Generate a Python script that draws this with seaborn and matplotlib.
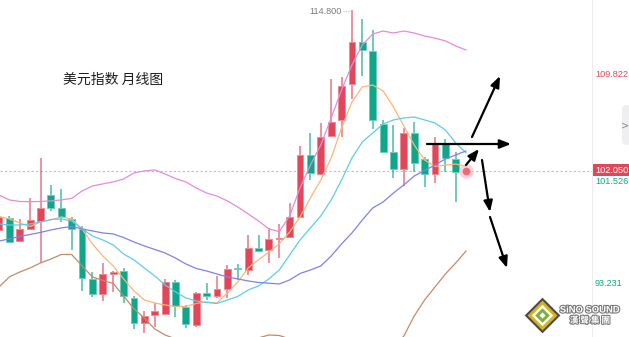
import numpy as np
import pandas as pd
import matplotlib
matplotlib.use("Agg")
import matplotlib.pyplot as plt
import seaborn as sns
from matplotlib import patheffects as pe
from matplotlib.patches import FancyBboxPatch
from matplotlib.transforms import blended_transform_factory

# ---------------- data ----------------
title = "美元指数 月线图"

opens = [97.37, 98.34, 96.52, 97.45, 98.08, 100.12, 99.11, 98.24, 97.42, 93.48,
         92.26, 93.87, 94.09, 91.99, 90.01, 90.64, 90.72, 93.22, 91.28, 89.83,
         92.37, 92.15, 92.71, 94.35, 94.22, 95.91, 95.78, 96.65, 96.77, 98.42,
         103.29, 101.81, 104.85, 106.10, 108.98, 112.31, 111.60, 105.80, 103.56, 102.18,
         105.04, 103.00, 101.81, 104.25, 103.00, 101.95]
highs = [98.56, 98.44, 98.24, 99.93, 103.08, 100.94, 100.60, 98.40, 97.68, 94.01,
         94.77, 94.14, 94.35, 92.13, 90.94, 91.60, 93.45, 93.40, 91.44, 92.47,
         93.18, 93.72, 94.56, 94.64, 96.97, 96.97, 97.50, 97.84, 99.47, 104.06,
         105.04, 105.88, 109.35, 109.53, 114.80, 114.09, 113.24, 106.10, 105.70, 105.44,
         105.91, 103.18, 104.77, 104.56, 103.58, 102.12]
lows = [97.21, 96.37, 96.44, 97.41, 94.72, 98.90, 98.02, 95.78, 92.55, 92.07,
        91.75, 92.47, 91.55, 89.51, 89.22, 89.69, 90.64, 90.49, 89.61, 89.69,
        91.81, 91.99, 91.99, 93.40, 93.79, 95.64, 94.72, 95.18, 96.69, 98.36,
        101.33, 101.73, 104.77, 104.72, 107.76, 109.59, 105.38, 103.50, 101.52, 100.88,
        101.95, 100.80, 101.07, 101.95, 99.61, 101.90]
closes = [98.40, 96.44, 97.42, 98.16, 99.11, 99.14, 98.37, 97.42, 93.53, 92.26,
          93.85, 94.06, 92.13, 90.01, 90.54, 90.94, 93.22, 91.36, 89.88, 92.34,
          92.15, 92.68, 94.27, 94.25, 95.94, 95.72, 96.65, 96.73, 98.37, 103.29,
          101.87, 104.75, 105.91, 108.77, 112.31, 111.65, 106.10, 103.58, 102.18, 105.04,
          102.66, 101.79, 104.25, 103.06, 101.95, 102.05]

ma_orange = [98.44, 98.24, 97.92, 97.64, 98.00, 98.16, 98.40, 98.24, 97.45, 96.26,
             95.30, 94.51, 93.48, 92.53, 91.81, 91.57, 91.41, 91.30, 91.30, 91.53,
             91.65, 91.57, 92.37, 93.24, 94.35, 94.99, 95.62, 96.26, 97.21, 98.40,
             99.91, 101.33, 103.08, 105.46, 107.52, 108.72, 108.87, 108.40, 107.13, 105.62,
             104.11, 102.92, 102.41, 102.52, 102.60, 102.41]
ma_cyan = [97.84, 97.76, 97.76, 97.84, 98.00, 98.20, 98.24, 98.08, 97.45, 96.89,
           96.57, 96.18, 95.46, 94.99, 94.35, 93.72, 93.00, 92.45, 91.97, 91.73,
           91.61, 91.53, 91.81, 92.09, 92.60, 92.92, 93.48, 94.19, 95.38, 96.57,
           97.53, 98.48, 99.75, 101.33, 103.08, 104.35, 105.06, 105.78, 106.10, 106.26,
           106.33, 106.10, 105.86, 105.30, 104.27, 103.48]
ma_blue = [96.49, 96.65, 96.85, 97.01, 97.17, 97.37, 97.53, 97.64, 97.45, 97.29,
           97.13, 97.05, 96.77, 96.41, 96.10, 95.82, 95.54, 95.14, 94.67, 94.31,
           94.11, 93.87, 93.64, 93.48, 93.32, 93.20, 93.14, 93.08, 93.40, 93.91,
           94.19, 94.51, 95.30, 96.26, 97.13, 98.16, 99.11, 99.59, 100.30, 100.94,
           101.65, 102.09, 102.52, 103.00, 103.32, 103.64]
band_upper = [100.14, 99.75, 99.63, 99.61, 99.63, 99.67, 99.75, 99.87, 100.46, 100.86,
              101.02, 101.18, 101.41, 101.89, 102.05, 102.13, 101.81, 101.45, 101.18, 100.70,
              100.30, 100.06, 99.67, 99.19, 98.64, 98.08, 97.45, 97.23, 98.48, 100.70,
              102.52, 104.11, 106.26, 108.48, 110.46, 112.05, 112.92, 113.16, 113.00, 113.16,
              113.00, 112.76, 112.60, 112.37, 111.97, 111.65]
band_lower = [92.84, 93.64, 94.03, 94.35, 94.75, 95.06, 95.42, 95.42, 94.51, 93.64,
              93.36, 93.12, 92.13, 91.10, 90.38, 89.51, 89.03, 88.72, 88.40, 88.16,
              88.24, 88.40, 88.56, 88.64, 88.72, 88.80, 89.03, 88.99, 88.72, 88.24,
              87.05, 85.46, 83.87, 82.29, 80.70, 81.49, 83.87, 86.41, 88.08, 88.95,
              90.54, 91.81, 92.84, 93.87, 94.75, 95.70]

axis_marks = ["109.822", "101.526", "93.231"]
axis_values = [109.822, 101.526, 93.231]
high_label = "114.800"
brand_en = "SiNO SOUND"
brand_cn = "漢 聲 集 團"

# ---------------- style ----------------
sns.set_theme(style="white")
plt.rcParams['font.family'] = ['Noto Sans CJK SC', 'DejaVu Sans']

RED = "#E0485A"
GREEN = "#0FA68A"
RED_EDGE = "#EE8A96"
GREEN_EDGE = "#6CCDBA"

fig = plt.figure(figsize=(6.29, 3.37), dpi=100, facecolor="white")
ax = fig.add_axes([0, 0, 1, 1])
ax.set_facecolor("white")

idx = np.arange(len(opens))
o = np.array(opens); c = np.array(closes); h = np.array(highs); l = np.array(lows)
up = c >= o
body_col = np.where(up, RED, GREEN)
edge_col = np.where(up, RED_EDGE, GREEN_EDGE)

# wicks
ax.vlines(idx, l, h, colors=[RED if u else GREEN for u in up], linewidth=1.1,
          alpha=0.75, zorder=2)
# bodies
bottoms = np.minimum(o, c)
heights = np.maximum(np.abs(c - o), 0.09)
ax.bar(idx, heights, bottom=bottoms, width=0.66, color=body_col,
       edgecolor=edge_col, linewidth=0.7, zorder=2.5)

# moving average / band lines via seaborn
series = {"upper": band_upper, "ma_orange": ma_orange, "ma_cyan": ma_cyan,
          "ma_blue": ma_blue, "lower": band_lower}
df = pd.concat([pd.DataFrame({"idx": idx, "value": v, "series": k})
                for k, v in series.items()], ignore_index=True)
palette = {"upper": "#E48BDC", "ma_orange": "#FFB475", "ma_cyan": "#5ACFE6",
           "ma_blue": "#8080F2", "lower": "#C58A68"}
sns.lineplot(data=df, x="idx", y="value", hue="series", palette=palette,
             estimator=None, legend=False, linewidth=0.9, ax=ax, zorder=3)

ax.set_xlim(0.096, 60.69)
ax.set_ylim(88.87, 115.62)
ax.axis("off")

last = closes[-1]
xmax_frac = 592 / 629
trans = blended_transform_factory(ax.transAxes, ax.transData)
# current price dashed line
ax.plot([0, xmax_frac], [last, last], transform=trans,
        color="#F6A6AE", linewidth=0.8, linestyle=(0, (2, 2)), zorder=1)
# divider of the price scale
ax.plot([xmax_frac, xmax_frac], [0, 1], transform=ax.transAxes, color="#EDEDED",
        linewidth=0.8, zorder=1)

# current price glow marker
ax.scatter([idx[-1]], [last], s=110, color="#F9C2C8", alpha=0.7, zorder=4, linewidths=0)
ax.scatter([idx[-1]], [last], s=30, color="#EE6A78", zorder=5, linewidths=0)

# price scale labels
lab_x = 595 / 629
label_font = dict(family="Liberation Sans", fontsize=6.6)
ax.annotate(axis_marks[0], xy=(lab_x, axis_values[0]), xycoords=trans, xytext=(0, -0.8),
            textcoords="offset points", va="center", ha="left", color=RED, **label_font)
ax.annotate(axis_marks[1], xy=(lab_x, axis_values[1]), xycoords=trans, xytext=(0, -2.6),
            textcoords="offset points", va="center", ha="left", color=GREEN, **label_font)
ax.annotate(axis_marks[2], xy=(lab_x, axis_values[2]), xycoords=trans, xytext=(0, -1.3),
            textcoords="offset points", va="center", ha="left", color=GREEN, **label_font)
ax.annotate(f"{last:.3f}", xy=(lab_x, last), xycoords=trans, xytext=(0, 0.6),
            textcoords="offset points", va="center", ha="left", color="white",
            bbox=dict(boxstyle="square,pad=0.2", facecolor=RED, edgecolor="none"),
            zorder=6, **label_font)

# high label
hi_i = int(np.argmax(h))
ax.annotate(high_label, xy=(hi_i, h[hi_i]), xycoords="data", xytext=(-7.2, -1.2),
            textcoords="offset points", va="center", ha="right", color="#7B7B8A",
            **label_font)
ax.plot([hi_i - 0.85, hi_i - 0.12], [h[hi_i] - 0.05, h[hi_i] - 0.05], color="#B8B8C4",
        linewidth=0.8, linestyle=(0, (1, 1.2)), zorder=4)

# title
ax.text(63 / 629, 1 - 80 / 337, title, transform=ax.transAxes, fontsize=10,
        color="#1E1E1E", ha="left", va="center", family=["Noto Sans CJK SC", "DejaVu Sans"])

# drawn arrows (axes-fraction positions)
arrows = [((472, 137), (500, 76)), ((427, 144), (511, 144)), ((466, 165), (479, 149)),
          ((482, 160), (490, 212)), ((490, 217), (507, 268))]
for (x0, y0), (x1, y1) in arrows:
    ax.annotate("", xy=(x1 / 629, 1 - y1 / 337), xytext=(x0 / 629, 1 - y0 / 337),
                xycoords="axes fraction", textcoords="axes fraction",
                arrowprops=dict(arrowstyle="-|>,head_length=0.55,head_width=0.22",
                                color="black", lw=1.6, shrinkA=0, shrinkB=0),
                zorder=7)

# side collapse button
btn = FancyBboxPatch((622 / 629, 1 - 145 / 337), 0.03, 40 / 337, transform=ax.transAxes,
                     boxstyle="round,pad=0,rounding_size=0.01", facecolor="#EFEFF2",
                     edgecolor="none", zorder=6, clip_on=False)
ax.add_patch(btn)
ax.text(625.5 / 629, 1 - 125 / 337, ">", transform=ax.transAxes, fontsize=7,
        color="#8A8A95", ha="center", va="center", family="DejaVu Sans", zorder=7)

# brand logo
lx, ly = 542 / 629, 1 - 315 / 337
ax.scatter([lx], [ly], s=330, marker="D", color="#4A4A48", transform=ax.transAxes, zorder=8, linewidths=0)
ax.scatter([lx], [ly], s=230, marker="D", color="#D6B21E", transform=ax.transAxes, zorder=8, linewidths=0)
ax.scatter([lx], [ly], s=120, marker="D", color="white", transform=ax.transAxes, zorder=8, linewidths=0)
ax.scatter([lx], [ly], s=55, marker="D", color="#7FAE3C", transform=ax.transAxes, zorder=8, linewidths=0)
ax.scatter([lx], [ly], s=10, marker="D", color="white", transform=ax.transAxes, zorder=8, linewidths=0)
stroke = [pe.withStroke(linewidth=1.6, foreground="#7A7A7A")]
ax.text(590 / 629, 1 - 310 / 337, brand_en, transform=ax.transAxes, fontsize=6.8,
        fontweight="bold", color="white", ha="center", va="center",
        family="Liberation Sans", path_effects=stroke, zorder=8)
ax.text(590 / 629, 1 - 320.5 / 337, brand_cn, transform=ax.transAxes, fontsize=6.2,
        fontweight="bold", color="white", ha="center", va="center",
        family=["Noto Sans CJK TC", "DejaVu Sans"], path_effects=stroke, zorder=8)

fig.savefig("out.png", dpi=100, facecolor="white")
